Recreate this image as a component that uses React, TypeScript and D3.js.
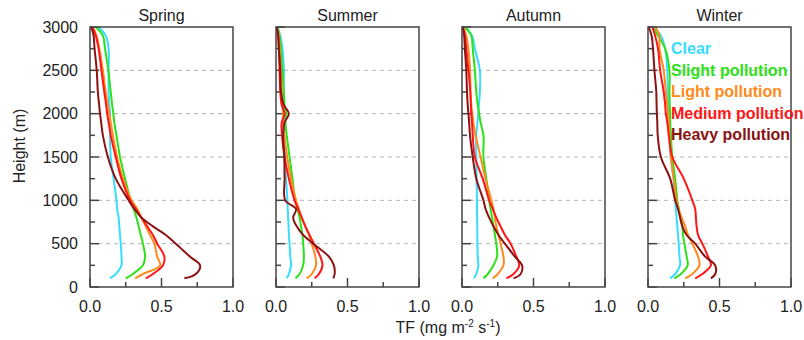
import React from "react";
import * as d3 from "d3";

const HEIGHTS = [100, 150, 250, 350, 500, 600, 700, 800, 900, 1000, 1250, 1500, 1750, 1900, 2000, 2100, 2250, 2500, 2750, 2900, 3000];

const SEASONS = ["Spring", "Summer", "Autumn", "Winter"];
const CATEGORIES = ["Clear", "Slight pollution", "Light pollution", "Medium pollution", "Heavy pollution"];
const COLORS = ["#38dcff", "#2ee019", "#ff8a1c", "#ff1616", "#8c1212"];

// TF (mg m-2 s-1), one row per category, aligned with HEIGHTS
const SPRING = [
  [0.14, 0.18, 0.22, 0.22, 0.215, 0.21, 0.205, 0.2, 0.19, 0.185, 0.165, 0.145, 0.14, 0.14, 0.14, 0.135, 0.13, 0.13, 0.13, 0.11, 0.06],
  [0.25, 0.3, 0.37, 0.385, 0.37, 0.355, 0.34, 0.325, 0.305, 0.285, 0.245, 0.21, 0.185, 0.17, 0.163, 0.155, 0.145, 0.128, 0.105, 0.09, 0.04],
  [0.315, 0.37, 0.49, 0.47, 0.45, 0.42, 0.39, 0.36, 0.33, 0.29, 0.23, 0.19, 0.16, 0.145, 0.135, 0.125, 0.11, 0.09, 0.065, 0.045, 0.02],
  [0.39, 0.44, 0.51, 0.52, 0.47, 0.44, 0.4, 0.36, 0.32, 0.28, 0.22, 0.18, 0.145, 0.13, 0.12, 0.113, 0.1, 0.08, 0.06, 0.04, 0.015],
  [0.66, 0.74, 0.77, 0.7, 0.6, 0.53, 0.44, 0.36, 0.31, 0.27, 0.18, 0.125, 0.09, 0.078, 0.07, 0.064, 0.055, 0.047, 0.032, 0.025, 0.01],
];
const SUMMER = [
  [0.075, 0.09, 0.105, 0.1, 0.095, 0.09, 0.088, 0.085, 0.082, 0.08, 0.07, 0.062, 0.058, 0.056, 0.056, 0.054, 0.053, 0.055, 0.045, 0.03, 0.01],
  [0.135, 0.165, 0.19, 0.195, 0.19, 0.185, 0.175, 0.165, 0.15, 0.135, 0.115, 0.095, 0.075, 0.066, 0.07, 0.06, 0.055, 0.045, 0.035, 0.025, 0.01],
  [0.215, 0.25, 0.28, 0.275, 0.25, 0.23, 0.205, 0.18, 0.16, 0.14, 0.105, 0.078, 0.058, 0.05, 0.05, 0.045, 0.04, 0.035, 0.025, 0.02, 0.005],
  [0.27, 0.3, 0.325, 0.31, 0.265, 0.235, 0.205, 0.18, 0.155, 0.13, 0.09, 0.06, 0.042, 0.04, 0.06, 0.04, 0.03, 0.025, 0.02, 0.015, 0.005],
  [0.4, 0.41, 0.405, 0.37, 0.26, 0.19, 0.145, 0.12, 0.14, 0.065, 0.06, 0.058, 0.05, 0.06, 0.09, 0.055, 0.035, 0.03, 0.02, 0.015, 0.005],
];
const AUTUMN = [
  [0.084, 0.1, 0.114, 0.11, 0.108, 0.107, 0.107, 0.106, 0.105, 0.105, 0.102, 0.1, 0.1, 0.108, 0.114, 0.118, 0.125, 0.125, 0.09, 0.07, 0.02],
  [0.15, 0.18, 0.22, 0.245, 0.24, 0.23, 0.22, 0.21, 0.2, 0.19, 0.17, 0.15, 0.15, 0.13, 0.12, 0.11, 0.1, 0.09, 0.075, 0.065, 0.02],
  [0.215, 0.25, 0.29, 0.29, 0.27, 0.255, 0.24, 0.23, 0.22, 0.205, 0.165, 0.13, 0.095, 0.08, 0.072, 0.065, 0.06, 0.056, 0.045, 0.03, 0.01],
  [0.31, 0.36, 0.4, 0.38, 0.34, 0.3, 0.27, 0.24, 0.215, 0.19, 0.145, 0.09, 0.075, 0.07, 0.065, 0.062, 0.058, 0.045, 0.03, 0.02, 0.005],
  [0.36, 0.41, 0.42, 0.37, 0.3, 0.255, 0.22, 0.19, 0.165, 0.15, 0.1, 0.075, 0.056, 0.05, 0.045, 0.04, 0.035, 0.03, 0.02, 0.015, 0.005],
];
const WINTER = [
  [0.154, 0.19, 0.224, 0.22, 0.215, 0.21, 0.205, 0.2, 0.195, 0.19, 0.178, 0.158, 0.15, 0.145, 0.142, 0.14, 0.138, 0.135, 0.12, 0.09, 0.04],
  [0.184, 0.23, 0.277, 0.27, 0.255, 0.245, 0.24, 0.225, 0.215, 0.205, 0.19, 0.17, 0.16, 0.155, 0.155, 0.152, 0.15, 0.15, 0.12, 0.07, 0.03],
  [0.26, 0.31, 0.36, 0.35, 0.31, 0.28, 0.26, 0.235, 0.215, 0.2, 0.18, 0.16, 0.15, 0.145, 0.14, 0.135, 0.125, 0.11, 0.08, 0.08, 0.05],
  [0.33, 0.38, 0.44, 0.42, 0.38, 0.35, 0.34, 0.335, 0.33, 0.31, 0.25, 0.17, 0.145, 0.135, 0.125, 0.12, 0.11, 0.085, 0.07, 0.05, 0.03],
  [0.44, 0.47, 0.47, 0.4, 0.33, 0.27, 0.24, 0.225, 0.21, 0.19, 0.155, 0.09, 0.068, 0.065, 0.062, 0.06, 0.058, 0.045, 0.035, 0.025, 0.005],
];
const SEASON_DATA = [SPRING, SUMMER, AUTUMN, WINTER];

const X_TICKS = [0, 0.5, 1];
const X_MINOR = [0.25, 0.75];
const Y_TICKS = [0, 500, 1000, 1500, 2000, 2500, 3000];
const Y_MINOR = [250, 750, 1250, 1750, 2250, 2750];
const GRID = [500, 1000, 1500, 2000, 2500];

const FONT = "'Liberation Sans', Arial, sans-serif";
const TOP = 27;
const BOTTOM = 287;
const PANEL_W = 143;
const STEP = 186;
const LEFT0 = 90;

export default function App() {
  const y = d3.scaleLinear().domain([0, 3000]).range([BOTTOM, TOP]);

  return (
    <svg width={804} height={340} style={{ position: "absolute", left: 0, top: 0 }} fontFamily={FONT}>
      {SEASON_DATA.map((rows, i) => {
        const left = LEFT0 + i * STEP;
        const x = d3.scaleLinear().domain([0, 1]).range([left, left + PANEL_W]);
        const line = d3
          .line<number>()
          .x((v) => x(v))
          .y((_, j) => y(HEIGHTS[j]))
          .curve(d3.curveCatmullRom.alpha(0.5));
        return (
          <g key={SEASONS[i]}>
            <text x={left + PANEL_W / 2} y={21} fontSize={16} textAnchor="middle" fill="#222">
              {SEASONS[i]}
            </text>
            {GRID.map((h) => (
              <line key={h} x1={x(0)} x2={x(1)} y1={y(h)} y2={y(h)} stroke="#b4b4b4" strokeDasharray="4,4" />
            ))}
            {Y_TICKS.map((h) => (
              <line key={"t" + h} x1={x(0)} x2={x(0) + 9} y1={y(h)} y2={y(h)} stroke="#444" strokeWidth={1.5} />
            ))}
            {Y_MINOR.map((h) => (
              <line key={"m" + h} x1={x(0)} x2={x(0) + 5} y1={y(h)} y2={y(h)} stroke="#444" strokeWidth={1.5} />
            ))}
            {X_TICKS.map((v) => (
              <line key={"xt" + v} x1={x(v)} x2={x(v)} y1={BOTTOM} y2={BOTTOM - 9} stroke="#444" strokeWidth={1.5} />
            ))}
            {X_MINOR.map((v) => (
              <line key={"xm" + v} x1={x(v)} x2={x(v)} y1={BOTTOM} y2={BOTTOM - 5} stroke="#444" strokeWidth={1.5} />
            ))}
            {rows.map((vals, k) => (
              <path key={k} d={line(vals) || ""} fill="none" stroke={COLORS[k]} strokeWidth={2} strokeLinejoin="round" />
            ))}
            <rect x={x(0)} y={TOP} width={PANEL_W} height={BOTTOM - TOP} fill="none" stroke="#444" strokeWidth={1.5} />
            {X_TICKS.map((v) => (
              <text key={"xl" + v} x={x(v)} y={312} fontSize={16} textAnchor="middle" fill="#222">
                {v.toFixed(1)}
              </text>
            ))}
            {i === 0 &&
              Y_TICKS.map((h) => (
                <text key={"yl" + h} x={x(0) - 12} y={y(h) + 5.5} fontSize={16} textAnchor="end" fill="#222">
                  {h}
                </text>
              ))}
          </g>
        );
      })}
      {CATEGORIES.map((c, k) => (
        <text key={c} x={671} y={54 + k * 21.5} fontSize={16} fontWeight="bold" fill={COLORS[k]}>
          {c}
        </text>
      ))}
      <text transform="translate(25,146) rotate(-90)" fontSize={16} textAnchor="middle" fill="#222">
        Height (m)
      </text>
      <text x={448} y={333} fontSize={16} textAnchor="middle" fill="#222">
        TF (mg m<tspan dy={-6} fontSize={10}>-2</tspan>
        <tspan dy={6}> s</tspan>
        <tspan dy={-6} fontSize={10}>-1</tspan>
        <tspan dy={6}>)</tspan>
      </text>
    </svg>
  );
}
